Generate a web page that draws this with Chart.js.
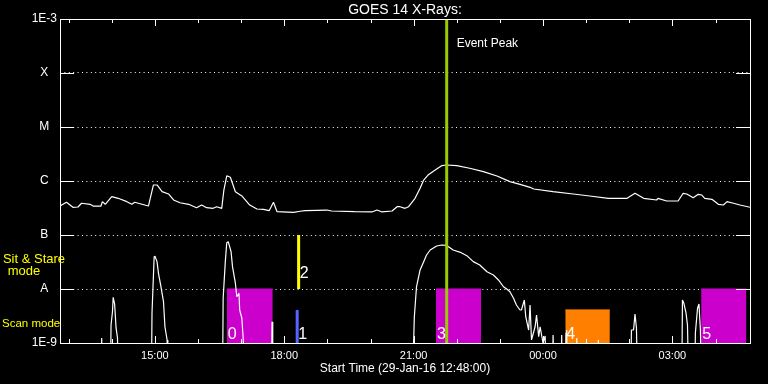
<!DOCTYPE html>
<html>
<head>
<meta charset="utf-8">
<script src="https://cdn.jsdelivr.net/npm/chart.js@4/dist/chart.umd.min.js"></script>
<style>
  html, body { margin: 0; padding: 0; background: #000; }
  canvas { display: block; }
</style>
</head>
<body>
<canvas id="goes" width="768" height="384"></canvas>
<script>
// time = minutes after 12:48:00 (29-Jan-16), flux in W/m^2

// long channel (upper curve)
const longT = [0, 9, 18, 25, 30, 42, 46, 57, 59, 63, 72, 81, 93, 100, 104, 123, 130, 135, 142, 151,
  158, 167, 179, 190, 197, 204, 213, 218, 225, 228, 232, 237, 244, 253, 264, 274, 283, 291, 297, 302,
  325, 334, 341, 357, 371, 378, 410, 434, 441, 448, 462, 469, 473, 480, 485, 494, 501, 506, 512, 522,
  531, 538, 552, 570, 589, 608, 626, 640, 654, 659, 686, 714, 737, 763, 789, 800, 812, 830, 832, 844,
  860, 867, 872, 881, 888, 893, 897, 907, 916, 923, 928, 937, 946, 960];
const longF = [3.44e-7, 4.04e-7, 3.26e-7, 3.30e-7, 3.87e-7, 3.70e-7, 3.44e-7, 3.44e-7, 4.14e-7, 3.70e-7,
  5.12e-7, 4.78e-7, 4.14e-7, 3.70e-7, 4.04e-7, 3.44e-7, 8.44e-7, 8.44e-7, 6.34e-7, 5.75e-7,
  4.45e-7, 3.96e-7, 3.70e-7, 3.20e-7, 3.59e-7, 3.20e-7, 3.12e-7, 3.34e-7, 3.12e-7, 6.81e-7,
  1.25e-6, 1.17e-6, 6.34e-7, 5.28e-7, 3.59e-7, 3.03e-7, 2.99e-7, 2.82e-7, 4.04e-7, 2.70e-7,
  2.63e-7, 2.75e-7, 2.82e-7, 2.86e-7, 2.90e-7, 2.78e-7, 2.70e-7, 2.67e-7, 2.90e-7, 2.67e-7,
  2.78e-7, 3.34e-7, 3.34e-7, 3.12e-7, 3.34e-7, 4.78e-7, 7.33e-7, 1.04e-6, 1.29e-6, 1.60e-6,
  1.92e-6, 1.98e-6, 1.92e-6, 1.72e-6, 1.49e-6, 1.24e-6, 9.72e-7, 8.68e-7, 7.64e-7, 7.11e-7,
  6.34e-7, 5.75e-7, 5.28e-7, 4.78e-7, 4.78e-7, 5.92e-7, 4.78e-7, 4.45e-7, 4.78e-7, 4.26e-7,
  4.26e-7, 5.92e-7, 5.75e-7, 4.91e-7, 5.67e-7, 5.50e-7, 4.78e-7, 4.58e-7, 3.70e-7, 3.59e-7,
  4.14e-7, 3.87e-7, 3.59e-7, 3.26e-7];

// short channel (lower curve), 1e-10 = below the plot floor
const shortT = [0, 57, 58, 59, 70, 71, 73, 74, 76, 78, 80, 81,
  127, 128, 131, 132, 135, 137, 140, 144, 146, 149, 150,
  226, 227, 230, 232, 234, 238, 240, 244, 246, 249, 250, 253, 255, 256,
  294, 295, 296,
  490, 492, 493, 496, 501, 506, 510, 515, 524, 531, 538, 547, 557, 566, 575, 584, 594, 603, 610, 617,
  622, 626, 631, 635, 640, 642, 646, 648, 652, 654, 656, 661, 663, 666, 668, 672, 675, 677,
  685, 686, 688, 697, 698, 699, 703, 704, 705, 706, 718, 719, 720, 748, 749, 750,
  794, 795, 798, 800, 802, 804, 865, 866, 868, 871, 873, 875,
  883, 884, 887, 889, 891, 893, 960];
const shortF = [1e-10, 1e-10, 1.24e-9, 1e-10, 1e-10, 2.15e-9, 3.80e-9, 7.02e-9, 5.27e-9, 1.90e-9, 1.24e-9, 1e-10,
  1e-10, 3.59e-9, 3.96e-8, 4.08e-8, 3.21e-8, 1.95e-8, 1.19e-8, 5.82e-9, 2.00e-9, 1.14e-9, 1e-10,
  1e-10, 6.73e-9, 3.21e-8, 7.20e-8, 7.52e-8, 4.91e-8, 2.59e-8, 1.28e-8, 7.20e-9, 8.32e-9, 4.08e-9, 2.87e-9, 1.14e-9, 1e-10,
  1e-10, 2.48e-9, 1e-10,
  1e-10, 1.04e-9, 3.07e-9, 1.10e-8, 2.25e-8, 3.21e-8, 4.26e-8, 5.27e-8, 6.25e-8, 6.53e-8, 6.42e-8, 5.27e-8, 4.78e-8, 4.14e-8, 3.21e-8, 2.78e-8, 2.09e-8, 1.82e-8, 1.47e-8, 1.10e-8,
  9.86e-9, 8.91e-9, 6.73e-9, 5.05e-9, 4.08e-9, 4.08e-9, 6.25e-9, 3.07e-9, 1.74e-9, 5.05e-9, 1.14e-9, 2.00e-9, 3.30e-9, 1.31e-9, 2.00e-9, 1.00e-9, 1.35e-9, 1e-10,
  1e-10, 1.41e-9, 1e-10, 1e-10, 1.41e-9, 1e-10, 1e-10, 1.53e-9, 1.74e-9, 1e-10, 1e-10, 1.24e-9, 1e-10, 1e-10, 1.14e-9, 1e-10,
  1e-10, 1.74e-9, 1.74e-9, 3.44e-9, 1.90e-9, 1e-10, 1e-10, 6.25e-9, 5.43e-9, 3.59e-9, 2.15e-9, 1e-10,
  1e-10, 1.53e-9, 4.39e-9, 5.27e-9, 1.74e-9, 1e-10, 1e-10];

// observing blocks 0..5
const blockNames = ['0', '1', '2', '3', '4', '5'];
const blockStart = [232, 330, 332, 523, 703, 892];
const blockEnd = [296, 330, 332, 586, 765, 955];
const blockLow = [1e-9, 1e-9, 1e-8, 1e-9, 1e-9, 1e-9];
const blockHigh = [1e-8, 4.1e-9, 1e-7, 1e-8, 4.1e-9, 1e-8];
const blockColors = ['#cc00cc', '#5566ff', '#ffff00', '#cc00cc', '#ff8000', '#cc00cc'];

const peakTime = 538;

// axes
const yTickValues = [1e-9, 1e-8, 1e-7, 1e-6, 1e-5, 1e-4, 1e-3];
const yTickLabels = ['1E-9', 'A', 'B', 'C', 'M', 'X', '1E-3'];
const xTickValues = [132, 312, 492, 672, 852];
const xTickLabels = ['15:00', '18:00', '21:00', '00:00', '03:00'];

Chart.defaults.font.family = '"Liberation Sans", Arial, sans-serif';
Chart.defaults.color = '#fff';

function toPoints(ts, fs) {
  return ts.map((t, i) => ({ x: t, y: fs[i] }));
}

function blockDatasets() {
  return blockNames.map((name, i) => {
    if (blockStart[i] === blockEnd[i]) {
      // thin vertical marker
      return {
        label: 'block ' + name,
        data: [{ x: blockStart[i], y: blockLow[i] }, { x: blockStart[i], y: blockHigh[i] }],
        borderColor: blockColors[i],
        borderWidth: 3,
        fill: false,
        order: 2,
      };
    }
    return {
      label: 'block ' + name,
      data: [{ x: blockStart[i], y: blockHigh[i] }, { x: blockEnd[i], y: blockHigh[i] }],
      borderColor: blockColors[i],
      backgroundColor: blockColors[i],
      borderWidth: 1,
      fill: 'start',
      order: 2,
    };
  });
}

// frame, inward ticks and text labels
const overlay = {
  id: 'overlay',
  afterDatasetsDraw(chart) {
    const { ctx, chartArea: a, scales: { x, y } } = chart;
    ctx.save();
    ctx.strokeStyle = '#fff';
    ctx.lineWidth = 1;
    ctx.strokeRect(a.left + 0.5, a.top + 0.5, a.right - a.left, a.bottom - a.top);

    ctx.beginPath();
    yTickValues.slice(1, -1).forEach((v) => {
      const py = Math.round(y.getPixelForValue(v)) + 0.5;
      ctx.moveTo(a.left, py); ctx.lineTo(a.left + 14, py);
      ctx.moveTo(a.right - 14, py); ctx.lineTo(a.right, py);
    });
    // hourly ticks, longer every 3 hours
    for (let m = 12; m < 960; m += 60) {
      const px = Math.round(x.getPixelForValue(m)) + 0.5;
      const len = xTickValues.includes(m) ? 7 : 4;
      ctx.moveTo(px, a.top); ctx.lineTo(px, a.top + len);
      ctx.moveTo(px, a.bottom); ctx.lineTo(px, a.bottom - len);
    }
    ctx.stroke();

    ctx.fillStyle = '#fff';
    ctx.textBaseline = 'alphabetic';
    ctx.font = '16px "Liberation Sans"';
    blockNames.forEach((name, i) => {
      const px = x.getPixelForValue(blockStart[i]) + 1;
      const py = blockLow[i] > 1e-9 ? y.getPixelForValue(blockLow[i]) - 11 : a.bottom - 4;
      ctx.fillText(name, px, py);
    });
    ctx.font = '12px "Liberation Sans"';
    ctx.fillText('Event Peak', x.getPixelForValue(peakTime) + 10, a.top + 28);
    ctx.restore();
  },
  afterDraw(chart) {
    const { ctx, chartArea: a, scales: { y } } = chart;
    const yA = y.getPixelForValue(1e-8);
    const yB = y.getPixelForValue(1e-7);
    ctx.save();
    ctx.fillStyle = '#ffff00';
    ctx.font = '13px "Liberation Sans"';
    ctx.textBaseline = 'middle';
    ctx.textAlign = 'center';
    ctx.fillText('Sit & Stare', 34, (yA + yB) / 2 - 3);
    ctx.fillText('mode', 24, (yA + yB) / 2 + 9);
    ctx.textAlign = 'left';
    ctx.font = '11.5px "Liberation Sans"';
    ctx.fillText('Scan mode', 2, (yA + a.bottom) / 2 + 7.5);
    ctx.restore();
  },
};

new Chart(document.getElementById('goes'), {
  type: 'line',
  data: {
    datasets: [
      {
        label: 'Event Peak',
        data: [{ x: peakTime, y: 1e-9 }, { x: peakTime, y: 1e-3 }],
        borderColor: '#99cc00',
        borderWidth: 3,
        clip: 0,
        order: 0,
      },
      {
        label: 'long',
        data: toPoints(longT, longF),
        borderColor: '#fff',
        borderWidth: 1.2,
        order: 1,
      },
      {
        label: 'short',
        data: toPoints(shortT, shortF),
        borderColor: '#fff',
        borderWidth: 1.2,
        order: 1,
      },
      ...blockDatasets(),
    ],
  },
  options: {
    responsive: false,
    animation: false,
    events: [],
    layout: { padding: { top: 0, right: 18, bottom: 0, left: 0 } },
    elements: {
      point: { radius: 0 },
      line: { tension: 0, borderJoinStyle: 'bevel' },
    },
    plugins: {
      legend: { display: false },
      tooltip: { enabled: false },
      title: {
        display: true,
        text: 'GOES 14 X-Rays:',
        color: '#fff',
        fullSize: false,
        font: { size: 14, weight: 'normal', lineHeight: 1 },
        padding: { top: 3, bottom: 2 },
      },
    },
    scales: {
      x: {
        type: 'linear',
        min: 0,
        max: 960,
        afterBuildTicks: (s) => { s.ticks = xTickValues.map((v) => ({ value: v })); },
        afterFit: (s) => { s.height = 41; },
        grid: { display: false, drawTicks: false },
        border: { display: false },
        ticks: {
          color: '#fff',
          font: { size: 11 },
          padding: 6,
          autoSkip: false,
          maxRotation: 0,
          callback: (v, i) => xTickLabels[i],
        },
        title: {
          display: true,
          text: 'Start Time (29-Jan-16 12:48:00)',
          color: '#fff',
          font: { size: 12 },
          padding: { top: 0, bottom: 8.5 },
        },
      },
      y: {
        type: 'logarithmic',
        min: 1e-9,
        max: 1e-3,
        afterBuildTicks: (s) => { s.ticks = yTickValues.map((v) => ({ value: v })); },
        afterFit: (s) => { s.width = 60; },
        grid: { color: '#fff', lineWidth: 1, drawTicks: false },
        border: { display: false, dash: [1, 3.4] },
        ticks: {
          color: '#fff',
          font: { size: 12 },
          padding: 3,
          crossAlign: 'center',
          autoSkip: false,
          callback: (v, i) => yTickLabels[i],
        },
      },
    },
  },
  plugins: [overlay],
});
</script>
</body>
</html>
